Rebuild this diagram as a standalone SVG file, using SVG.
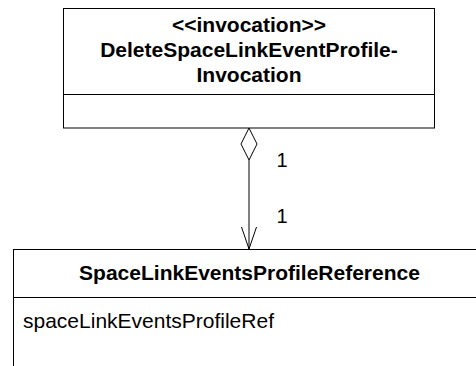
<svg xmlns="http://www.w3.org/2000/svg" width="476" height="366" viewBox="0 0 476 366">
<style>
.box{fill:#fff;stroke:#000;stroke-width:1}
.ln{stroke:#000;stroke-width:1;fill:none}
.b{font-family:"Liberation Sans",Arial,sans-serif;font-weight:bold;font-size:21px;text-anchor:middle;fill:#000}
.r{font-family:"Liberation Sans",Arial,sans-serif;font-size:21px;fill:#000}
.m{font-family:"Liberation Sans",Arial,sans-serif;font-size:20px;text-anchor:middle;fill:#000}
</style>
<rect width="476" height="366" fill="#fff"/>
<g id="node-invocation">
<rect class="box" x="63.5" y="8.5" width="371" height="119.5"/>
<line class="ln" x1="63.5" y1="94.5" x2="434.5" y2="94.5"/>
<text class="b" x="249" y="32">&lt;&lt;invocation&gt;&gt;</text>
<text class="b" x="249" y="57">DeleteSpaceLinkEventProfile-</text>
<text class="b" x="249" y="82">Invocation</text>
</g>
<g id="node-reference">
<rect class="box" x="13.5" y="249.5" width="480" height="200"/>
<line class="ln" x1="13.5" y1="297.5" x2="493.5" y2="297.5"/>
<text class="b" x="249.5" y="280">SpaceLinkEventsProfileReference</text>
<text class="r" x="23" y="328">spaceLinkEventsProfileRef</text>
</g>
<g id="connectors">
<line class="ln" x1="249" y1="160" x2="249" y2="249"/>
<polygon class="ln" points="249,128 257,144 249,160 241,144"/>
<polyline class="ln" points="241.5,227 249,249 256.5,227"/>
<text class="m" x="282" y="167">1</text>
<text class="m" x="282" y="223">1</text>
</g>
</svg>
